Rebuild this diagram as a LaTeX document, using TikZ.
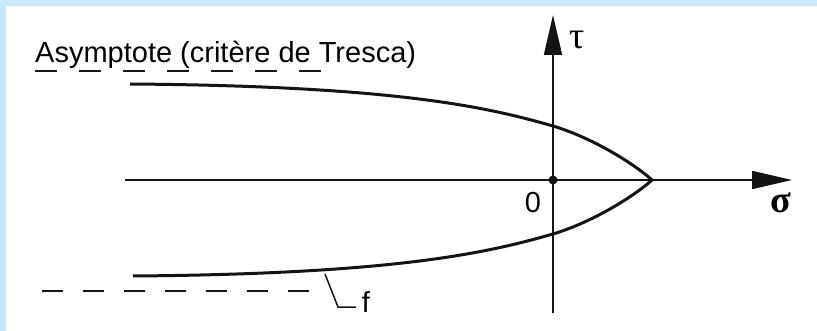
\documentclass[tikz,border=0pt]{standalone}
\usepackage{fontspec}
\setmainfont{Liberation Sans}
\newfontfamily\greekfont{Liberation Serif}
\usetikzlibrary{arrows.meta,positioning}
\definecolor{framecolor}{RGB}{204,232,255}
\definecolor{inkcolor}{RGB}{20,20,20}
\tikzset{
  axis line/.style={
    -{Triangle[length=40pt,width=18pt]},
    line width=1.8pt,
    draw=inkcolor
  },
  limit curve/.style={
    line width=3pt,
    line join=round,
    draw=inkcolor
  },
  asym line/.style={
    line width=2.6pt,
    draw=inkcolor
  },
  greek label/.style={
    font=\greekfont\fontsize{38}{42}\selectfont,
    inner sep=1pt
  },
  plain label/.style={
    font=\fontsize{29}{34}\selectfont,
    inner sep=1pt
  }
}

\begin{document}
\begin{tikzpicture}[x=1pt, y=-1pt]

  % Frame
  \fill[framecolor] (0,0) rectangle (817,331);
  \fill[white] (6,6) rectangle (817,331);
  \useasboundingbox (0,0) rectangle (817,331);

  % Axes
  \coordinate (O) at (553,180);
  \coordinate (sigstart) at (125,180);
  \coordinate (sigend) at (792,180);
  \coordinate (taustart) at (553,313);
  \coordinate (tauend) at (553,15);
  \draw[axis line] (sigstart) -- (sigend);
  \draw[axis line] (taustart) -- (tauend);
  \fill[inkcolor] (O) circle (4.5);

  % Labels
  \node[greek label] (tau) at (577,40) {τ};
  \node[greek label, font=\greekfont\bfseries\fontsize{38}{42}\selectfont] (sigma) at (781,203) {σ};
  \node[plain label] (zero) at (533,203) {0};

  % Limit curve
  \draw[limit curve] (130,84) .. controls (400,86) and (490,108) .. (553,126)
    .. controls (590,137) and (632,162) .. (652,180)
    .. controls (632,198) and (590,223) .. (553,234)
    .. controls (490,252) and (400,274) .. (133,276);

  % Asymptote
  \node[plain label, anchor=base west] (asym) at (34,63) {Asymptote (critère de Tresca)};
  \draw[asym line, dash pattern=on 22pt off 22pt] (35,71) -- (340,71);
  \draw[asym line, dash pattern=on 21pt off 20pt] (42,291) -- (309,291);

  % Curve name
  \node[plain label, inner sep=6pt] (f) at (366,302) {f};
  \coordinate (fpt) at (325,274);
  \coordinate (fbend) at (338,307);
  \draw[line width=1.5pt, draw=inkcolor] (fpt) -- (fbend) -- (fbend -| f.west);

\end{tikzpicture}
\end{document}
